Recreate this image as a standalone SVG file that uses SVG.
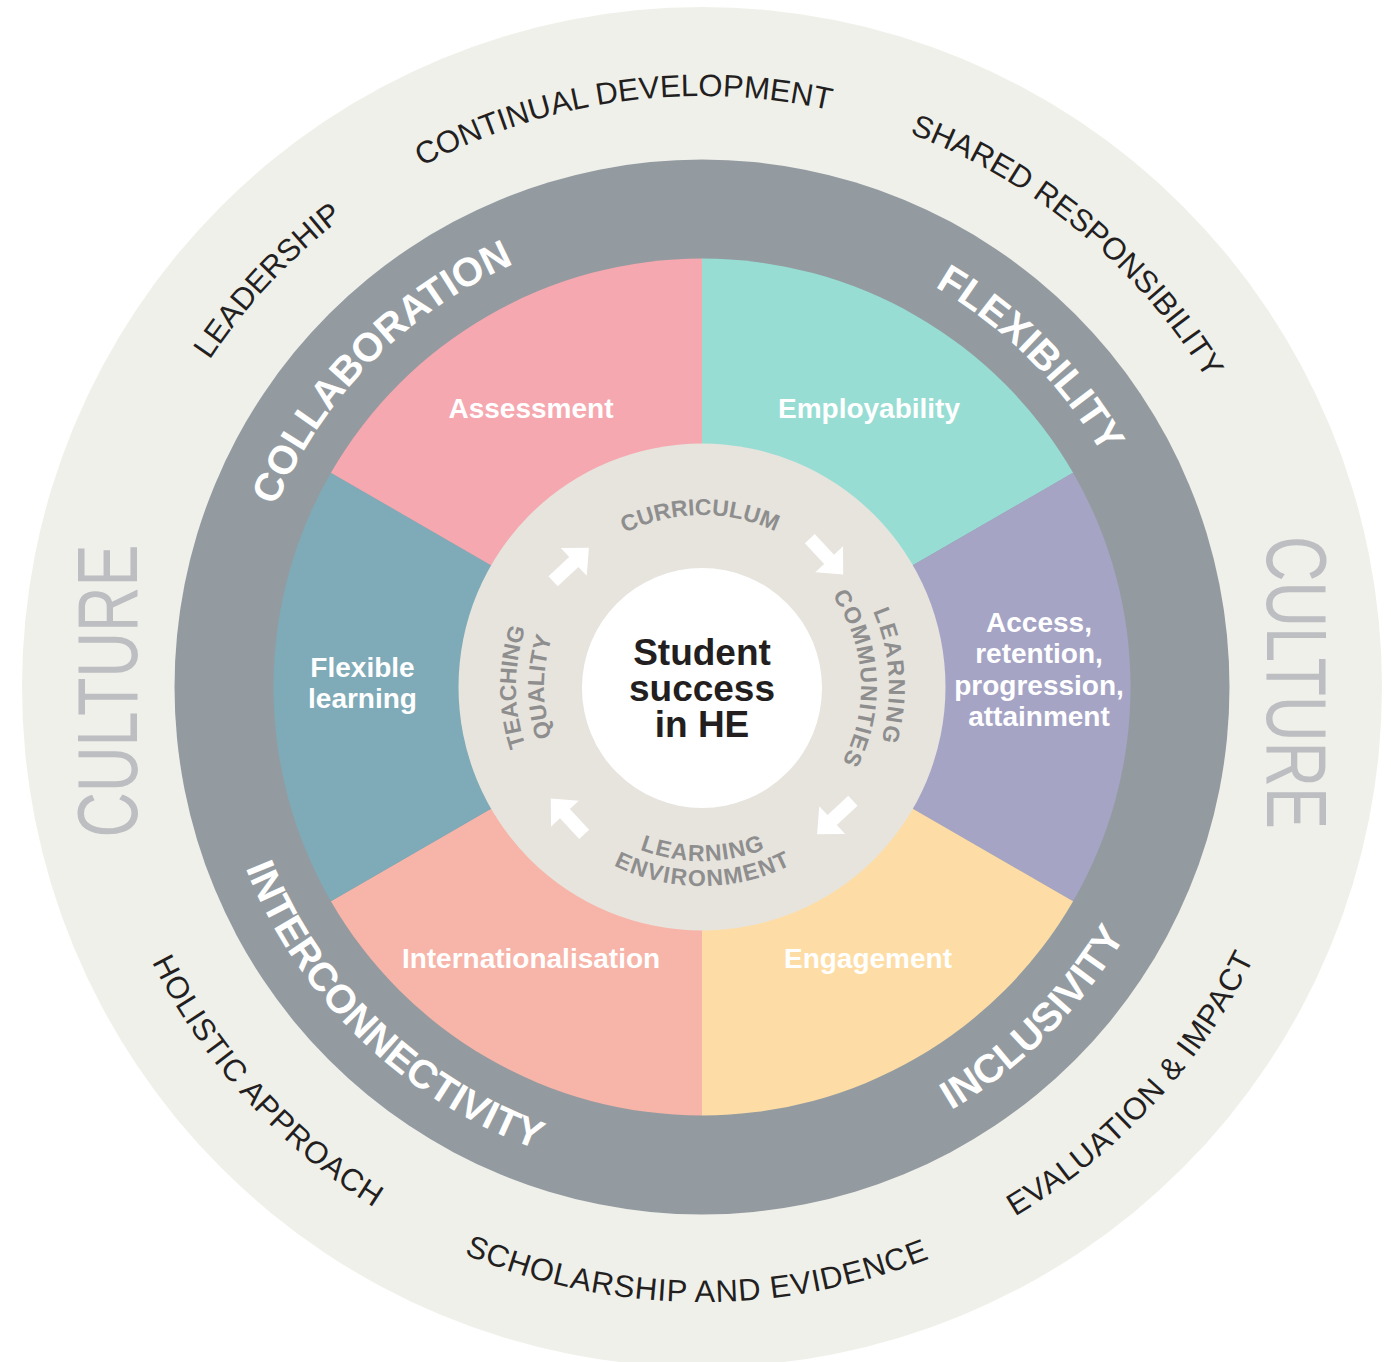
<svg xmlns="http://www.w3.org/2000/svg" xmlns:xlink="http://www.w3.org/1999/xlink" width="1391" height="1362" viewBox="0 0 1391 1362">
<style>
  text { font-family: "Liberation Sans", Arial, Helvetica, sans-serif; }
  .outer-t { font-size: 31px; fill: #231F20; }
  .outer-b { letter-spacing: 0.7px; }
  .ring-t { font-size: 40px; font-weight: bold; fill: #FFFFFF; }
  .inner-t { font-size: 23px; font-weight: bold; fill: #8E8E8E; }
  .seg-t { font-size: 28px; font-weight: bold; fill: #FFFFFF; text-anchor: middle; }
  .center-t { font-size: 37px; font-weight: bold; fill: #231F20; text-anchor: middle; }
  .culture { font-size: 85px; fill: #BDBEC2; text-anchor: middle; }
  .arrow { fill: #FFFFFF; }
</style>
<defs>
  <path id="p-continual" d="M111.4,665.35 A591,591 0 0 1 1264.38,505.35"/>
  <path id="p-shared" d="M318.96,236.93 A591,591 0 0 1 1215.87,978.92"/>
  <path id="p-leadership" d="M229.39,1041.85 A591,591 0 0 1 1024.75,191.91"/>
  <path id="p-holistic" d="M216.05,310.06 A615,615 0 0 0 1029.67,1207.46"/>
  <path id="p-scholarship" d="M95.43,788.5 A615,615 0 0 0 1306.70,799.08"/>
  <path id="p-evaluation" d="M369.30,1204.24 A615,615 0 0 0 1191.54,314.75"/>
  <path id="p-collab" d="M325.06,955.86 A463,463 0 0 1 964.25,305.43"/>
  <path id="p-flex" d="M436.43,307.73 A463,463 0 0 1 1081.27,952.57"/>
  <path id="p-inter" d="M294.94,412.44 A491,491 0 0 0 990.60,1084.23"/>
  <path id="p-incl" d="M420.37,1089.20 A491,491 0 0 0 1104.20,405.37"/>
  <path id="p-curr" d="M532.26,659.20 A172,172 0 0 1 871.01,655.06"/>
  <path id="p-comm" d="M720.55,529.09 A159,159 0 0 1 738.58,841.74"/>
  <path id="p-learn-r" d="M723.82,501.28 A187,187 0 0 1 745.02,868.98"/>
  <path id="p-teach" d="M669.70,870.17 A186,186 0 0 1 669.70,503.83"/>
  <path id="p-qual" d="M674.56,842.60 A158,158 0 0 1 674.56,531.40"/>
  <path id="p-learn-b" d="M530.80,718.11 A174,174 0 0 0 873.51,716.32"/>
  <path id="p-env" d="M506.21,722.58 A199,199 0 0 0 898.15,720.53"/>
  <path id="arrow-shape" d="M-24.5,-6.8 H3.8 V-19 L24.5,0 L3.8,19 V6.8 H-24.5 Z"/>
</defs>

<g id="culture-ring">
  <circle cx="702" cy="687" r="680" fill="#F0F0EB"/>
  <text class="culture" transform="translate(137,691) rotate(-90)" textLength="293" lengthAdjust="spacingAndGlyphs">CULTURE</text>
  <text class="culture" transform="translate(1267,682.5) rotate(90)" textLength="293" lengthAdjust="spacingAndGlyphs">CULTURE</text>
</g>

<g id="culture-continual-development"><text class="outer-t"><textPath xlink:href="#p-continual" href="#p-continual" startOffset="50%" text-anchor="middle">CONTINUAL DEVELOPMENT</textPath></text></g>
<g id="culture-shared-responsibility"><text class="outer-t"><textPath xlink:href="#p-shared" href="#p-shared" startOffset="50%" text-anchor="middle">SHARED RESPONSIBILITY</textPath></text></g>
<g id="culture-leadership"><text class="outer-t"><textPath xlink:href="#p-leadership" href="#p-leadership" startOffset="50%" text-anchor="middle">LEADERSHIP</textPath></text></g>
<g id="culture-holistic-approach"><text class="outer-t outer-b"><textPath xlink:href="#p-holistic" href="#p-holistic" startOffset="50%" text-anchor="middle">HOLISTIC APPROACH</textPath></text></g>
<g id="culture-scholarship"><text class="outer-t outer-b"><textPath xlink:href="#p-scholarship" href="#p-scholarship" startOffset="50%" text-anchor="middle">SCHOLARSHIP AND EVIDENCE</textPath></text></g>
<g id="culture-evaluation"><text class="outer-t outer-b"><textPath xlink:href="#p-evaluation" href="#p-evaluation" startOffset="50%" text-anchor="middle">EVALUATION &amp; IMPACT</textPath></text></g>

<g id="principles-ring">
  <circle cx="702" cy="687" r="527.5" fill="#939BA0"/>
</g>

<g id="seg-employability">
  <path d="M702,687 L702,258.5 A428.5,428.5 0 0 1 1073.09,472.75 Z" fill="#97DDD3"/>
  <text class="seg-t" x="869" y="418">Employability</text>
</g>
<g id="seg-access">
  <path d="M702,687 L1073.09,472.75 A428.5,428.5 0 0 1 1073.09,901.25 Z" fill="#A6A4C5"/>
  <text class="seg-t" x="1039" y="632">Access,<tspan x="1039" dy="31.3">retention,</tspan><tspan x="1039" dy="31.3">progression,</tspan><tspan x="1039" dy="31.3">attainment</tspan></text>
</g>
<g id="seg-engagement">
  <path d="M702,687 L1073.09,901.25 A428.5,428.5 0 0 1 702,1115.5 Z" fill="#FDDDA5"/>
  <text class="seg-t" x="868" y="968">Engagement</text>
</g>
<g id="seg-internationalisation">
  <path d="M702,687 L702,1115.5 A428.5,428.5 0 0 1 330.91,901.25 Z" fill="#F7B4A8"/>
  <text class="seg-t" x="531" y="968">Internationalisation</text>
</g>
<g id="seg-flexible-learning">
  <path d="M702,687 L330.91,901.25 A428.5,428.5 0 0 1 330.91,472.75 Z" fill="#7FAAB7"/>
  <text class="seg-t" x="362.5" y="677">Flexible<tspan x="362.5" dy="31.3">learning</tspan></text>
</g>
<g id="seg-assessment">
  <path d="M702,687 L330.91,472.75 A428.5,428.5 0 0 1 702,258.5 Z" fill="#F5A8AF"/>
  <text class="seg-t" x="531" y="418">Assessment</text>
</g>

<g id="principle-collaboration"><text class="ring-t"><textPath xlink:href="#p-collab" href="#p-collab" startOffset="50%" text-anchor="middle">COLLABORATION</textPath></text></g>
<g id="principle-flexibility"><text class="ring-t"><textPath xlink:href="#p-flex" href="#p-flex" startOffset="50%" text-anchor="middle">FLEXIBILITY</textPath></text></g>
<g id="principle-interconnectivity"><text class="ring-t"><textPath xlink:href="#p-inter" href="#p-inter" startOffset="50%" text-anchor="middle">INTERCONNECTIVITY</textPath></text></g>
<g id="principle-inclusivity"><text class="ring-t"><textPath xlink:href="#p-incl" href="#p-incl" startOffset="50%" text-anchor="middle">INCLUSIVITY</textPath></text></g>

<g id="core-ring">
  <circle cx="702" cy="687" r="243.5" fill="#E7E4DE"/>
</g>
<g id="core-curriculum"><text class="inner-t"><textPath xlink:href="#p-curr" href="#p-curr" startOffset="50%" text-anchor="middle">CURRICULUM</textPath></text></g>
<g id="core-learning-communities">
  <text class="inner-t" letter-spacing="1.8"><textPath xlink:href="#p-learn-r" href="#p-learn-r" startOffset="50%" text-anchor="middle">LEARNING</textPath></text>
  <text class="inner-t" letter-spacing="1.2"><textPath xlink:href="#p-comm" href="#p-comm" startOffset="50%" text-anchor="middle">COMMUNITIES</textPath></text>
</g>
<g id="core-learning-environment">
  <text class="inner-t" letter-spacing="1.1"><textPath xlink:href="#p-learn-b" href="#p-learn-b" startOffset="50%" text-anchor="middle">LEARNING</textPath></text>
  <text class="inner-t" letter-spacing="1.4"><textPath xlink:href="#p-env" href="#p-env" startOffset="50%" text-anchor="middle">ENVIRONMENT</textPath></text>
</g>
<g id="core-teaching-quality">
  <text class="inner-t"><textPath xlink:href="#p-teach" href="#p-teach" startOffset="50%" text-anchor="middle">TEACHING</textPath></text>
  <text class="inner-t"><textPath xlink:href="#p-qual" href="#p-qual" startOffset="50%" text-anchor="middle">QUALITY</textPath></text>
</g>

<g id="connectors">
  <use href="#arrow-shape" xlink:href="#arrow-shape" class="arrow" transform="translate(571,564.5) rotate(-43)"/>
  <use href="#arrow-shape" xlink:href="#arrow-shape" class="arrow" transform="translate(826.5,556.5) rotate(47)"/>
  <use href="#arrow-shape" xlink:href="#arrow-shape" class="arrow" transform="translate(835,817.5) rotate(137)"/>
  <use href="#arrow-shape" xlink:href="#arrow-shape" class="arrow" transform="translate(567.5,816.5) rotate(-133)"/>
</g>

<g id="student-success">
  <circle cx="702" cy="688" r="120" fill="#FFFFFF"/>
  <text class="center-t" x="702" y="665">Student<tspan x="702" dy="36">success</tspan><tspan x="702" dy="36">in HE</tspan></text>
</g>
</svg>
